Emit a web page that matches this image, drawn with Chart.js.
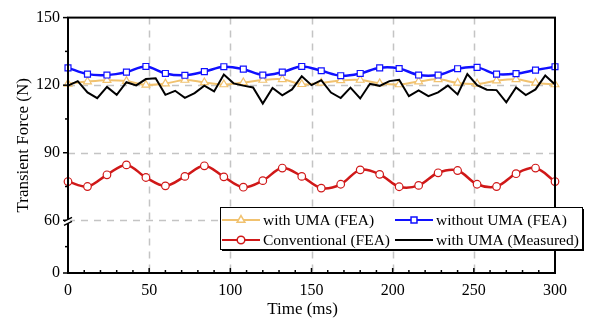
<!DOCTYPE html>
<html>
<head>
<meta charset="utf-8">
<script src="https://cdn.jsdelivr.net/npm/chart.js@4.4.1/dist/chart.umd.min.js"></script>
<style>
  html, body { margin: 0; padding: 0; background: #fff; }
  #wrap { width: 596px; height: 320px; }
</style>
</head>
<body>
<div id="wrap"><canvas id="chart_canvas"></canvas></div>
<script>
// time axis (ms)
const timeFea = [0, 12, 24, 36, 48, 60, 72, 84, 96, 108, 120, 132, 144, 156, 168, 180, 192, 204, 216, 228, 240, 252, 264, 276, 288, 300];
const timeMeasured = [0, 6, 12, 18, 24, 30, 36, 42, 48, 54, 60, 66, 72, 78, 84, 90, 96, 102, 108, 114, 120, 126, 132, 138, 144, 150,
  156, 162, 168, 174, 180, 186, 192, 198, 204, 210, 216, 222, 228, 234, 240, 246, 252, 258, 264, 270, 276, 282, 288, 294, 300];

// transient force (N)
const withUmaFea = [120.6, 121.6, 122.2, 121.8, 120.1, 120.7, 122.3, 121.2, 120.3, 121.2, 122.3, 122.6, 120.4,
  121.0, 122.1, 122.3, 120.8, 120.3, 121.6, 122.6, 121.0, 120.6, 122.0, 122.6, 121.0, 120.3];
const withoutUmaFea = [127.7, 124.9, 124.5, 125.8, 128.3, 125.2, 124.4, 126.0, 128.2, 127.1, 124.5, 125.8, 128.3,
  126.4, 124.2, 125.2, 127.7, 127.4, 124.5, 124.5, 127.3, 127.9, 124.9, 125.1, 126.7, 128.2];
const conventionalFea = [77.2, 75.0, 80.2, 84.6, 79.0, 75.3, 79.5, 84.2, 79.3, 74.7, 77.6, 83.2, 79.5,
  74.3, 76.0, 82.4, 80.4, 74.9, 75.5, 81.1, 82.1, 76.0, 75.0, 80.7, 83.2, 77.2];
const withUmaMeasured = [119.8, 121.8, 116.8, 114.2, 119.2, 115.7, 121.3, 119.9, 122.7, 123.1, 115.7, 117.5, 114.4,
  116.5, 119.8, 117.2, 124.7, 120.8, 119.8, 119.0, 111.8, 118.8, 115.5, 118.1, 124.0, 120.0, 122.2, 116.7, 114.3,
  118.9, 114.1, 120.6, 119.7, 121.8, 122.4, 115.1, 117.7, 115.1, 116.8, 119.8, 115.9, 124.9, 120.0, 118.0, 117.8,
  112.4, 119.0, 115.6, 118.1, 124.3, 120.3];

const seriesNames = ["with UMA (FEA)", "without UMA (FEA)", "Conventional (FEA)", "with UMA (Measured)"];

// y axis is broken below 60: the "0" label sits at this display position
const yBreakBottom = 36.6;
const yTickValues = [yBreakBottom, 60, 90, 120, 150];
const yTickLabels = ["0", "60", "90", "120", "150"];
const yMinorValues = [48.3, 75, 105, 135];
const yGridValues = [60, 90, 120];
const xGridValues = [50, 100, 150, 200, 250];
const xMinorStep = 10;

const colYellow = "#f1c26f";
const colBlue = "#1010ff";
const colRed = "#d01818";
const colBlack = "#000000";
const serif = "'Liberation Serif', 'Times New Roman', serif";

function pts(xs, ys) {
  return xs.map((x, i) => ({x: x, y: ys[i]}));
}

const legendItems = [
  {text: seriesNames[0], color: colYellow, style: "triangle", radius: 4.5, col: 0, row: 0},
  {text: seriesNames[1], color: colBlue, style: "rect", radius: 4.2, col: 1, row: 0},
  {text: seriesNames[2], color: colRed, style: "circle", radius: 3.8, col: 0, row: 1},
  {text: seriesNames[3], color: colBlack, style: false, radius: 0, col: 1, row: 1}
];

function seg(ctx, x1, y1, x2, y2)
{
  ctx.beginPath();
  ctx.moveTo(x1, y1);
  ctx.lineTo(x2, y2);
  ctx.stroke();
}

const framePlugin = {
  id: "frame",
  beforeDatasetsDraw(chart)
  {
    const {ctx, chartArea: a, scales: {x, y}} = chart;
    ctx.save();
    ctx.strokeStyle = "#c4c4c4";
    ctx.lineWidth = 1.5;
    ctx.setLineDash([7, 6]);
    xGridValues.forEach(v => {
      const px = Math.round(x.getPixelForValue(v)) + 0.5;
      seg(ctx, px, a.top, px, a.bottom);
    });
    yGridValues.forEach(v => {
      const py = Math.round(y.getPixelForValue(v)) + 0.5;
      seg(ctx, a.left, py, a.right, py);
    });
    ctx.restore();
  },
  afterDraw(chart)
  {
    const {ctx, chartArea: a, scales: {x, y}} = chart;
    ctx.save();
    ctx.setLineDash([]);
    ctx.strokeStyle = "#000";
    ctx.lineWidth = 2;
    ctx.strokeRect(a.left, a.top, a.right - a.left, a.bottom - a.top);

    // x ticks, inside
    ctx.lineWidth = 1.5;
    for (let t = 0; t <= 300; t += xMinorStep)
    {
      const px = x.getPixelForValue(t);
      const len = (t % 50 == 0) ? 5 : 3;
      seg(ctx, px, a.bottom, px, a.bottom - len);
    }
    // y ticks, outside
    yTickValues.forEach(v => {
      const py = y.getPixelForValue(v);
      seg(ctx, a.left, py, a.left - 5, py);
    });
    yMinorValues.forEach(v => {
      const py = y.getPixelForValue(v);
      seg(ctx, a.left, py, a.left - 3, py);
    });

    // axis break at 60
    const by = y.getPixelForValue(60);
    ctx.strokeStyle = "#fff";
    ctx.lineWidth = 4;
    seg(ctx, a.left, by - 1, a.left, by + 3);
    ctx.strokeStyle = "#000";
    ctx.lineWidth = 1.5;
    seg(ctx, a.left - 4, by + 1, a.left + 4, by - 3);
    seg(ctx, a.left - 4, by + 5, a.left + 4, by + 1);

    // titles
    ctx.fillStyle = "#000";
    ctx.font = "17px " + serif;
    ctx.textAlign = "center";
    ctx.textBaseline = "middle";
    ctx.fillText("Time (ms)", (a.left + a.right) / 2 - 9, 310);
    ctx.save();
    ctx.translate(24, (a.top + a.bottom) / 2);
    ctx.rotate(-Math.PI / 2);
    ctx.fillText("Transient Force (N)", 0, 0);
    ctx.restore();

    // legend box
    const lx = 220, ly = 207, lw = 362, lh = 42;
    ctx.fillStyle = "#000";
    ctx.fillRect(lx + 2, ly + 2, lw, lh);
    ctx.fillStyle = "#fff";
    ctx.fillRect(lx, ly, lw, lh);
    ctx.lineWidth = 1;
    ctx.strokeStyle = "#000";
    ctx.strokeRect(lx + 0.5, ly + 0.5, lw, lh);

    const colX = [222, 395];
    const rowY = [220, 240];
    ctx.font = "15.5px " + serif;
    ctx.textAlign = "left";
    legendItems.forEach(it => {
      const x0 = colX[it.col], yy = rowY[it.row];
      ctx.strokeStyle = it.color;
      ctx.lineWidth = 2;
      seg(ctx, x0, yy, x0 + 38, yy);
      if (it.style)
      {
        ctx.fillStyle = "#fff";
        ctx.lineWidth = 1.5;
        Chart.helpers.drawPoint(ctx, {pointStyle: it.style, radius: it.radius, rotation: 0, borderWidth: 1.5}, x0 + 19, yy);
      }
      ctx.fillStyle = "#000";
      ctx.fillText(it.text, x0 + 41, yy + 1);
    });
    ctx.restore();
  }
};

const config = {
  type: "line",
  data: {
    datasets: [
      {
        label: seriesNames[0], data: pts(timeFea, withUmaFea), borderColor: colYellow, backgroundColor: "#fff",
        borderWidth: 2, pointStyle: "triangle", pointRadius: 4.5, pointBorderWidth: 1.2, tension: 0.35, order: 4
      },
      {
        label: seriesNames[1], data: pts(timeFea, withoutUmaFea), borderColor: colBlue, backgroundColor: "#fff",
        borderWidth: 2.5, pointStyle: "rect", pointRadius: 4.2, pointBorderWidth: 1.2, tension: 0.35, order: 2
      },
      {
        label: seriesNames[2], data: pts(timeFea, conventionalFea), borderColor: colRed, backgroundColor: "#fff",
        borderWidth: 2.5, pointStyle: "circle", pointRadius: 3.8, pointBorderWidth: 1.2, tension: 0.35, order: 3
      },
      {
        label: seriesNames[3], data: pts(timeMeasured, withUmaMeasured), borderColor: colBlack,
        borderWidth: 2, pointRadius: 0, tension: 0, order: 1
      }
    ]
  },
  options: {
    responsive: true,
    maintainAspectRatio: false,
    animation: false,
    clip: false,
    layout: {padding: {top: 13, right: 41, left: 0, bottom: 0}},
    plugins: {legend: {display: false}, tooltip: {enabled: false}},
    scales: {
      x: {
        type: "linear", min: 0, max: 300,
        grid: {display: false, drawTicks: false},
        border: {display: false},
        ticks: {stepSize: 50, padding: 8, color: "#000", font: {family: serif, size: 16}, maxRotation: 0},
        afterFit: s => { s.height = 47; }
      },
      y: {
        min: yBreakBottom, max: 150,
        grid: {display: false, drawTicks: false},
        border: {display: false},
        afterBuildTicks: s => { s.ticks = yTickValues.map(v => ({value: v})); },
        ticks: {padding: 8, color: "#000", font: {family: serif, size: 16}, callback: (v, i) => yTickLabels[i]},
        afterFit: s => { s.width = 68; }
      }
    }
  },
  plugins: [framePlugin]
};

new Chart(document.getElementById("chart_canvas"), config);
</script>
</body>
</html>
